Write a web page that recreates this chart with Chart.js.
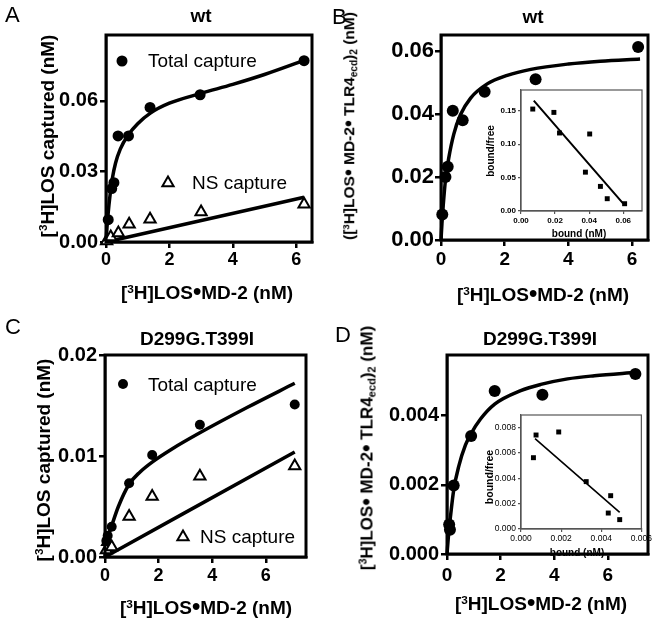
<!DOCTYPE html>
<html><head><meta charset="utf-8">
<script src="https://cdn.jsdelivr.net/npm/chart.js@4.4.0/dist/chart.umd.min.js"></script>
<style>
html,body{margin:0;padding:0;background:#fff;width:654px;height:625px;overflow:hidden;position:relative;}
.cv{position:absolute;left:0;top:0;}
.lb{position:absolute;white-space:nowrap;line-height:1;color:#000;font-family:"Liberation Sans",Arial,Helvetica,sans-serif;}
.lb sup{font-size:62%;line-height:0;vertical-align:0.55em;}
.lb sub{font-size:65%;line-height:0;vertical-align:-0.25em;}
.lb .bu{font-size:125%;line-height:0;vertical-align:-0.05em;}
</style></head><body>
<script>
const FONT='"Liberation Sans", Arial, Helvetica, sans-serif';
const W=654, H=625;

// ---------- Panel A: wt capture ----------
const aTotalX=[0.07,0.18,0.25,0.38,0.71,1.39,2.97,6.25];
const aTotalY=[0.0095,0.0227,0.0252,0.0451,0.0451,0.0572,0.0626,0.0771];
const aNsX=[0.02,0.15,0.39,0.73,1.39,3.0,6.25];
const aNsY=[0.0004,0.0021,0.0038,0.0075,0.0097,0.0128,0.0161];
const aFitTotalX=[0,0.03,0.07,0.12,0.2,0.3,0.45,0.7,1.0,1.4,2,3,4,5,6.25];
const aFitTotalY=[0,0.006,0.0125,0.019,0.027,0.0335,0.0395,0.0455,0.0503,0.0548,0.059,0.0632,0.067,0.0712,0.0772];
const aFitNsX=[0,6.25];
const aFitNsY=[0,0.019];
const aXTicks=[0,2,4,6], aXLabels=['0','2','4','6'];
const aYTicks=[0,0.03,0.06], aYLabels=['0.00','0.03','0.06'];

// ---------- Panel B: wt specific ----------
const bX=[0.04,0.14,0.21,0.37,0.68,1.37,2.97,6.19];
const bY=[0.0081,0.0200,0.0232,0.0410,0.0380,0.0470,0.0510,0.0612];
const bFitX=[0,0.03,0.07,0.14,0.24,0.4,0.61,0.93,1.45,2.08,2.82,4,5,6.25];
const bFitY=[0,0.0053,0.011,0.019,0.0258,0.0335,0.0397,0.045,0.0495,0.0522,0.0541,0.0558,0.0567,0.0574];
const bXTicks=[0,2,4,6], bXLabels=['0','2','4','6'];
const bYTicks=[0,0.02,0.04,0.06], bYLabels=['0.00','0.02','0.04','0.06'];
// inset B (Scatchard)
const bInBound=[0.0069,0.0193,0.0226,0.0403,0.0378,0.0466,0.0506,0.0608];
const bInRatio=[0.1525,0.1475,0.1167,0.1152,0.0581,0.0368,0.0184,0.0109];
const bInFitX=[0.0075,0.0600];
const bInFitY=[0.165,0.0109];
const bInXTicks=[0,0.02,0.04,0.06], bInXLabels=['0.00','0.02','0.04','0.06'];
const bInYTicks=[0,0.05,0.10,0.15], bInYLabels=['0.00','0.05','0.10','0.15'];

// ---------- Panel C: D299G.T399I capture ----------
const cTotalX=[0.05,0.1,0.25,0.9,1.76,3.54,7.08];
const cTotalY=[0.0016,0.0021,0.0030,0.0073,0.0101,0.0131,0.0151];
const cNsX=[0.05,0.1,0.25,0.9,1.76,3.54,7.08];
const cNsY=[0.0007,0.0015,0.0010,0.0040,0.0060,0.0080,0.0090];
const cFitTotalX=[0,0.03,0.1,0.25,0.5,0.9,1.3,1.76,2.5,3.54,5.3,7.08];
const cFitTotalY=[0,0.001,0.0019,0.0031,0.005,0.0072,0.0084,0.0094,0.0107,0.0123,0.0148,0.0172];
const cFitNsX=[0,7.08];
const cFitNsY=[0,0.0104];
const cXTicks=[0,2,4,6], cXLabels=['0','2','4','6'];
const cYTicks=[0,0.01,0.02], cYLabels=['0.00','0.01','0.02'];

// ---------- Panel D: D299G.T399I specific ----------
const dX=[0.08,0.11,0.25,0.9,1.78,3.56,7.03];
const dY=[0.00085,0.0007,0.00198,0.00341,0.00471,0.0046,0.0052];
const dFitX=[0,0.05,0.125,0.25,0.44,0.69,0.9,1.25,1.78,2.75,3.5,4.5,5.5,7.06];
const dFitY=[0,0.00048,0.00105,0.00185,0.00254,0.00315,0.00348,0.0039,0.00433,0.00472,0.0049,0.00506,0.00515,0.00525];
const dXTicks=[0,2,4,6], dXLabels=['0','2','4','6'];
const dYTicks=[0,0.002,0.004], dYLabels=['0.000','0.002','0.004'];
// inset D
const dInBound=[0.00062,0.00075,0.00188,0.00325,0.00447,0.00435,0.00492];
const dInRatio=[0.00563,0.00742,0.00766,0.00374,0.00263,0.00126,0.00074];
const dInFitX=[0.0007,0.00492];
const dInFitY=[0.00713,0.00132];
const dInXTicks=[0,0.002,0.004,0.006], dInXLabels=['0.000','0.002','0.004','0.006'];
const dInYTicks=[0,0.002,0.004,0.006,0.008], dInYLabels=['0.000','0.002','0.004','0.006','0.008'];

// ---------- helpers ----------
const pts=(xs,ys)=>xs.map((x,i)=>({x:x,y:ys[i]}));
const dots=(xs,ys,r)=>({data:pts(xs,ys),pointStyle:'circle',pointRadius:r,backgroundColor:'#000',borderColor:'#000',borderWidth:0,showLine:false,clip:false});
const tris=(xs,ys,r)=>({data:pts(xs,ys),pointStyle:'triangle',pointRadius:r,backgroundColor:'#fff',borderColor:'#000',borderWidth:2,showLine:false,clip:false});
const squares=(xs,ys,r)=>({data:pts(xs,ys),pointStyle:'rect',pointRadius:r,backgroundColor:'#000',borderColor:'#000',borderWidth:0,showLine:false,clip:false});
const curve=(xs,ys,w)=>({data:pts(xs,ys),showLine:true,pointRadius:0,borderColor:'#000',backgroundColor:'#000',borderWidth:w,cubicInterpolationMode:'monotone',fill:false,clip:false});

const framePlugin={id:'frame',afterDraw(chart,args,o){
  const a=chart.chartArea,c=chart.ctx;c.save();c.lineWidth=o.width;c.strokeStyle=o.color;
  c.strokeRect(a.left,a.top,a.right-a.left,a.bottom-a.top);c.restore();}};
const keyPlugin={id:'keys',afterDatasetsDraw(chart,args,o){
  const c=chart.ctx;const items=o.items||[];
  for(let k=0;k<items.length;k++){const it=items[k];c.save();
    if(it.marker==='circle'){c.beginPath();c.arc(it.mx,it.my,it.r,0,Math.PI*2);c.fillStyle='#000';c.fill();}
    else{const r=it.r;c.beginPath();c.moveTo(it.mx,it.my-r);c.lineTo(it.mx+0.866*r,it.my+0.5*r);c.lineTo(it.mx-0.866*r,it.my+0.5*r);c.closePath();
      c.fillStyle='#fff';c.fill();c.lineWidth=2;c.strokeStyle='#000';c.stroke();}
    c.font=it.size+'px '+FONT;c.fillStyle='#000';c.textBaseline='alphabetic';c.textAlign='left';
    c.fillText(it.text,it.tx,it.ty+0.358*it.size);c.restore();}
}};

function axis(kind,ax,size){
  return {type:'linear',position:kind==='x'?'bottom':'left',min:ax.min,max:ax.max,
    afterBuildTicks:s=>{s.ticks=ax.ticks.map(v=>({value:v}));},
    afterFit:s=>{if(kind==='x')s.height=size;else s.width=size;},
    grid:{display:true,drawOnChartArea:false,drawTicks:true,tickLength:ax.tl,lineWidth:ax.lw,color:ax.color,tickColor:ax.color},
    border:{display:true,color:ax.color,width:ax.lw},
    ticks:{autoSkip:false,maxRotation:0,minRotation:0,padding:ax.pad,color:'#000',
      font:{family:FONT,size:ax.font,weight:ax.bold?'bold':'normal'},callback:(v,i)=>ax.labels[i]}};
}
function makeChart(spec){
  const cv=document.createElement('canvas');cv.width=W;cv.height=H;cv.className='cv';document.body.appendChild(cv);
  const a=spec.area;
  return new Chart(cv.getContext('2d'),{type:'scatter',data:{datasets:spec.datasets},
    options:{responsive:false,animation:false,events:[],
      layout:{padding:{left:0,top:a.t,right:W-a.r,bottom:0}},
      plugins:{legend:{display:false},tooltip:{enabled:false},title:{display:false},
        frame:{width:spec.frameWidth,color:spec.frameColor},keys:{items:spec.keys||[]}},
      scales:{x:axis('x',spec.x,H-a.b),y:axis('y',spec.y,a.l)}},
    plugins:[framePlugin,keyPlugin]});
}
function txt(html,x,y,size,weight,mode){
  const d=document.createElement('div');d.className='lb';d.innerHTML=html;d.style.fontSize=size+'px';d.style.fontWeight=weight;
  if(mode==='rot'){d.style.left=x+'px';d.style.top=y+'px';d.style.transform='translate(-50%,-50%) rotate(-90deg)';}
  else{d.style.top=(y-0.8465*size)+'px';d.style.left=x+'px';if(mode==='center')d.style.transform='translateX(-50%)';}
  document.body.appendChild(d);
}
const BLK='#000', GRY='#555';
const BU='<span class="bu">•</span>';

// ---------- insets (drawn underneath the main panels) ----------
makeChart({area:{l:521,t:90,r:642,b:211},frameWidth:1.2,frameColor:GRY,
  x:{min:0,max:0.071,ticks:bInXTicks,labels:bInXLabels,font:8,bold:true,tl:3,pad:2,lw:1.2,color:GRY},
  y:{min:0,max:0.181,ticks:bInYTicks,labels:bInYLabels,font:8,bold:true,tl:3,pad:2,lw:1.2,color:GRY},
  datasets:[squares(bInBound,bInRatio,3.5),curve(bInFitX,bInFitY,2)]});
makeChart({area:{l:521,t:415,r:642,b:529},frameWidth:1.2,frameColor:GRY,
  x:{min:0,max:0.006,ticks:dInXTicks,labels:dInXLabels,font:8.5,bold:false,tl:3,pad:2,lw:1.2,color:GRY},
  y:{min:0,max:0.009,ticks:dInYTicks,labels:dInYLabels,font:8.5,bold:false,tl:3,pad:2,lw:1.2,color:GRY},
  datasets:[squares(dInBound,dInRatio,3.5),curve(dInFitX,dInFitY,1.6)]});
txt('bound/free',491,151,10,'bold','rot');
txt('bound (nM)',579,237,10,'bold','center');
txt('bound/free',489,477,10.5,'bold','rot');
txt('bound (nM)',577,556,10,'bold','center');

// ---------- main panels ----------
makeChart({area:{l:106,t:35,r:312,b:242},frameWidth:3,frameColor:BLK,
  x:{min:0,max:6.5,ticks:aXTicks,labels:aXLabels,font:18,bold:true,tl:6,pad:1,lw:2.5,color:BLK},
  y:{min:0,max:0.088,ticks:aYTicks,labels:aYLabels,font:20,bold:true,tl:6,pad:2,lw:2.5,color:BLK},
  keys:[{marker:'circle',mx:122,my:61,r:5.5,text:'Total capture',tx:148,ty:60,size:19},
        {marker:'triangle',mx:168,my:183,r:6.5,text:'NS capture',tx:192,ty:182,size:19}],
  datasets:[dots(aTotalX,aTotalY,5.5),tris(aNsX,aNsY,6.5),curve(aFitTotalX,aFitTotalY,3.5),curve(aFitNsX,aFitNsY,3.5)]});
makeChart({area:{l:441,t:35,r:649,b:240},frameWidth:3,frameColor:BLK,
  x:{min:0,max:6.5,ticks:bXTicks,labels:bXLabels,font:19,bold:true,tl:6,pad:2,lw:2.5,color:BLK},
  y:{min:0,max:0.065,ticks:bYTicks,labels:bYLabels,font:22,bold:true,tl:6,pad:1,lw:2.5,color:BLK},
  datasets:[dots(bX,bY,6),curve(bFitX,bFitY,3.5)]});
makeChart({area:{l:105,t:355,r:306,b:557},frameWidth:3,frameColor:BLK,
  x:{min:0,max:7.5,ticks:cXTicks,labels:cXLabels,font:18,bold:true,tl:6,pad:2,lw:2.5,color:BLK},
  y:{min:0,max:0.02,ticks:cYTicks,labels:cYLabels,font:20,bold:true,tl:6,pad:2,lw:2.5,color:BLK},
  keys:[{marker:'circle',mx:123,my:384,r:5,text:'Total capture',tx:148,ty:384,size:19},
        {marker:'triangle',mx:183,my:537,r:6.5,text:'NS capture',tx:200,ty:536,size:19}],
  datasets:[dots(cTotalX,cTotalY,5),tris(cNsX,cNsY,6.5),curve(cFitTotalX,cFitTotalY,3.5),curve(cFitNsX,cFitNsY,3.5)]});
makeChart({area:{l:447,t:355,r:648,b:554},frameWidth:3,frameColor:BLK,
  x:{min:0,max:7.5,ticks:dXTicks,labels:dXLabels,font:19,bold:true,tl:6,pad:4,lw:2.5,color:BLK},
  y:{min:0,max:0.00575,ticks:dYTicks,labels:dYLabels,font:20,bold:true,tl:6,pad:2,lw:2.5,color:BLK},
  datasets:[dots(dX,dY,6),curve(dFitX,dFitY,3.5)]});

// ---------- text around panels ----------
txt('A',5,23,22,'normal','left');
txt('B',332,25,22,'normal','left');
txt('C',5,335,22,'normal','left');
txt('D',335,343,22,'normal','left');
txt('wt',201,22.5,19,'bold','center');
txt('wt',533,23,19,'bold','center');
txt('D299G.T399I',197,345,19,'bold','center');
txt('D299G.T399I',540,345,19,'bold','center');
txt('[<sup>3</sup>H]LOS'+BU+'MD-2 (nM)',207,299,19,'bold','center');
txt('[<sup>3</sup>H]LOS'+BU+'MD-2 (nM)',543,301,19,'bold','center');
txt('[<sup>3</sup>H]LOS'+BU+'MD-2 (nM)',206,614,19,'bold','center');
txt('[<sup>3</sup>H]LOS'+BU+'MD-2 (nM)',541,610,19,'bold','center');
txt('[<sup>3</sup>H]LOS captured (nM)',47,136,19,'bold','rot');
txt('([<sup>3</sup>H]LOS'+BU+' MD-2'+BU+' TLR4<sub>ecd</sub>)<sub>2</sub> (nM)',349,126,15.5,'bold','rot');
txt('[<sup>3</sup>H]LOS captured (nM)',43,460,19,'bold','rot');
txt('[<sup>3</sup>H]LOS'+BU+' MD-2'+BU+' TLR4<sub>ecd</sub>)<sub>2</sub> (nM)',367,448,17,'bold','rot');
</script>
</body></html>
